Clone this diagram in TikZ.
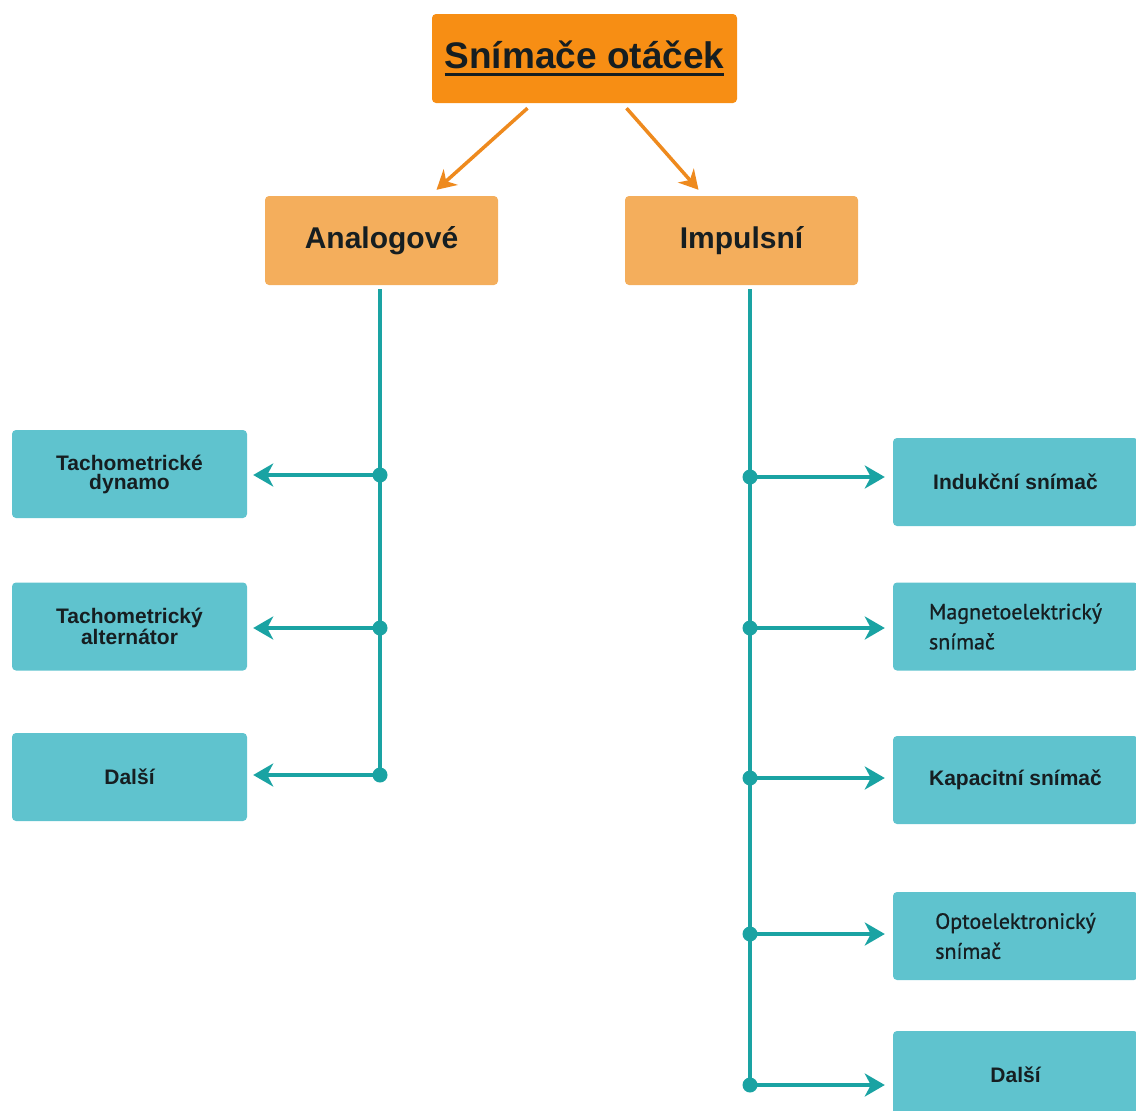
\documentclass[tikz,border=0pt]{standalone}
\usepackage{fontspec}
\setmainfont{Liberation Sans}
\newfontfamily\narrowfont[FakeBold=0.8]{PT Sans}
\usepackage{tikz}
\usetikzlibrary{positioning}
\usetikzlibrary{arrows.meta}
\newcommand{\thickul}[1]{\setbox0\hbox{#1}\rlap{\rule[-8pt]{\wd0}{3pt}}\box0}
\definecolor{topfill}{RGB}{247,142,20}
\definecolor{midfill}{RGB}{244,174,92}
\definecolor{arroworange}{RGB}{238,138,30}
\definecolor{leaffill}{RGB}{95,195,206}
\definecolor{stemteal}{RGB}{26,163,163}
\definecolor{inkdark}{RGB}{22,30,33}
\tikzset{
	box/.style={
		rounded corners=4pt,
		inner sep=0pt,
		text=inkdark,
		align=center},
	root/.style={box,
		fill=topfill,
		minimum width=305pt,
		minimum height=89pt,
		font=\fontsize{37}{40}\selectfont\bfseries},
	kind/.style={box,
		fill=midfill,
		minimum width=233pt,
		minimum height=89pt,
		font=\fontsize{30}{34}\selectfont\bfseries},
	leaf/.style={box,
		fill=leaffill,
		minimum width=235pt,
		minimum height=88pt,
		font=\fontsize{21}{19}\selectfont\bfseries},
	wideleaf/.style={leaf,
		minimum width=245pt},
	narrowleaf/.style={wideleaf,
		align=left,
		font=\fontsize{22}{30}\selectfont\narrowfont},
	dot/.style={circle,
		fill=stemteal,
		inner sep=0pt,
		minimum size=15pt},
	split/.style={draw=arroworange,
		line width=3.5pt,
		-{Stealth[length=19pt,width=21pt,inset=6pt]}},
	stem/.style={draw=stemteal,
		line width=3.5pt},
	twig/.style={draw=stemteal,
		line width=3.5pt,
		-{Stealth[length=20pt,width=23pt,inset=6pt]}}
}

\begin{document}
\begin{tikzpicture}[x=1pt,y=-1pt]
	\useasboundingbox (0,0) rectangle (1136,1111);
	\clip (0,0) rectangle (1136,1111);

	% main boxes
	\node[root] (top) at (584.5,58.5) {\thickul{Snímače otáček}};
	\node[kind] (ana) at (381.5,240.5) {Analogové};
	\node[kind] (imp) at (741.5,240.5) {Impulsní};

	\draw[split] ([xshift=-57pt,yshift=-5pt]top.south) -- ([xshift=55pt,yshift=6pt]ana.north);
	\draw[split] ([xshift=42pt,yshift=-5pt]top.south) -- ([xshift=-43pt,yshift=6pt]imp.north);

	% analog branch
	\node[leaf] (dyn) at (129.5,474) {Tachometrické\\dynamo};
	\node[leaf] (alt) at (129.5,626.5) {Tachometrický\\alternátor};
	\node[leaf] (adal) at (129.5,777) {Další};

	\node[dot] (a1) at (380,475) {};
	\node[dot] (a2) at (380,628) {};
	\node[dot] (a3) at (380,775) {};

	\draw[stem, shorten <=4pt] (ana.south -| a1) -- (a3.center);
	\draw[twig, shorten >=6pt] (a1.center) -- (a1 -| dyn.east);
	\draw[twig, shorten >=6pt] (a2.center) -- (a2 -| alt.east);
	\draw[twig, shorten >=6pt] (a3.center) -- (a3 -| adal.east);

	% impulse branch
	\node[wideleaf] (ind) at (1015.5,482) {Indukční snímač};
	\node[narrowleaf] (mag) at (1015.5,626.5) {Magnetoelektrický\\snímač};
	\node[wideleaf] (kap) at (1015.5,780) {Kapacitní snímač};
	\node[narrowleaf] (opt) at (1015.5,936) {Optoelektronický\\snímač};
	\node[wideleaf] (idal) at (1015.5,1075) {Další};

	\node[dot] (r1) at (750,477) {};
	\node[dot] (r2) at (750,628) {};
	\node[dot] (r3) at (750,778) {};
	\node[dot] (r4) at (750,934) {};
	\node[dot] (r5) at (750,1085) {};

	\draw[stem, shorten <=4pt] (imp.south -| r1) -- (r5.center);
	\draw[twig, shorten >=8pt] (r1.center) -- (r1 -| ind.west);
	\draw[twig, shorten >=8pt] (r2.center) -- (r2 -| mag.west);
	\draw[twig, shorten >=8pt] (r3.center) -- (r3 -| kap.west);
	\draw[twig, shorten >=8pt] (r4.center) -- (r4 -| opt.west);
	\draw[twig, shorten >=8pt] (r5.center) -- (r5 -| idal.west);
\end{tikzpicture}
\end{document}
